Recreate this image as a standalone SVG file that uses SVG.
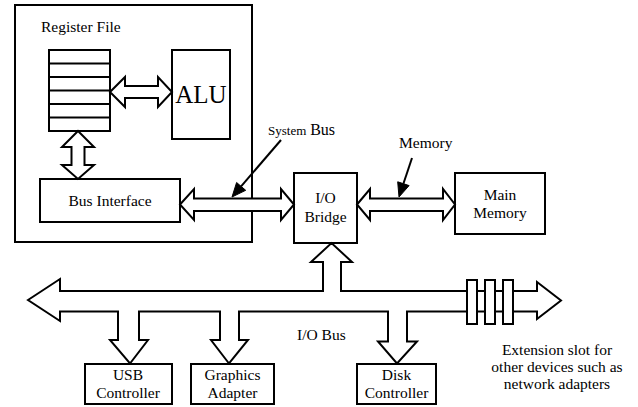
<svg xmlns="http://www.w3.org/2000/svg" width="638" height="407" viewBox="0 0 638 407">
<defs>
<style>
.box{fill:#fff;stroke:#000;stroke-width:2}
.bus{fill:#fff;stroke:#000;stroke-width:2;stroke-linejoin:miter}
.ln{stroke:#000;stroke-width:2;fill:none}
.head{fill:#000;stroke:#000;stroke-width:1;stroke-linejoin:miter}
text{font-family:"Liberation Serif","Times New Roman",serif;fill:#000;font-size:15.5px}
.c{text-anchor:middle}
</style>
</defs>
<rect width="638" height="407" fill="#fff"/>

<g id="cpu">
<rect class="box" x="15" y="5" width="237" height="237"/>
<text x="41" y="32">Register File</text>
</g>

<g id="register-file">
<rect class="box" x="49" y="50" width="61" height="81"/>
<path class="ln" d="M49,63.5H110M49,77H110M49,90.5H110M49,104H110M49,117.5H110"/>
</g>

<g id="alu">
<rect class="box" x="172" y="50" width="58" height="89"/>
<text class="c" x="201" y="103" style="font-size:25px">ALU</text>
</g>

<g id="bus-interface">
<rect class="box" x="40" y="179" width="140" height="43"/>
<text class="c" x="110" y="206">Bus Interface</text>
</g>

<g id="io-bridge">
<rect class="box" x="294" y="173" width="63" height="70"/>
<text class="c" x="325.5" y="203">I/O</text>
<text class="c" x="325.5" y="222">Bridge</text>
</g>

<g id="main-memory">
<rect class="box" x="455" y="173" width="90" height="61"/>
<text class="c" x="500" y="200">Main</text>
<text class="c" x="500" y="218">Memory</text>
</g>

<g id="usb-controller">
<rect class="box" x="85" y="364" width="87" height="40"/>
<text class="c" x="128" y="380">USB</text>
<text class="c" x="128" y="398">Controller</text>
</g>

<g id="graphics-adapter">
<rect class="box" x="191" y="364" width="83" height="40"/>
<text class="c" x="232.5" y="380">Graphics</text>
<text class="c" x="232.5" y="398">Adapter</text>
</g>

<g id="disk-controller">
<rect class="box" x="357" y="364" width="79" height="40"/>
<text class="c" x="396.5" y="380">Disk</text>
<text class="c" x="396.5" y="398">Controller</text>
</g>

<g id="connectors">
<polygon class="bus" points="110,92 125,77 125,86 158,86 158,77 172,92 158,107 158,98 125,98 125,107"/>
<polygon class="bus" points="78,131 94,147 84.5,147 84.5,165 94,165 78,179 62,165 71.5,165 71.5,147 62,147"/>
<polygon class="bus" points="180,204.5 194,189 194,198.5 281,198.5 281,189 294,204.5 281,220 281,211 194,211 194,220"/>
<polygon class="bus" points="357,204.5 370,189 370,198.5 443,198.5 443,189 455,204.5 443,220 443,211 370,211 370,220"/>
<polygon class="bus" points="28,300 60,279 60,291 323,291 323,262 311,262 331.5,243 352,262 341,262 341,291 537,291 537,282 561,300.5 537,319 537,311.5 407,311.5 407,341.5 417,341.5 397,363.5 378,341.5 388,341.5 388,311.5 239,311.5 239,340 248,340 229,363.5 211,340 220,340 220,311.5 139,311.5 139,340 148,340 130,363.5 110,340 118,340 118,311.5 60,311.5 60,321"/>
<rect class="box" x="467" y="280" width="10" height="44"/>
<rect class="box" x="485" y="280" width="10" height="44"/>
<rect class="box" x="503" y="280" width="10" height="44"/>
<line x1="281" y1="140" x2="241.1" y2="186.4" stroke="#000" stroke-width="2"/>
<polygon class="head" points="232,197 245.7,190.3 236.6,182.5"/>
<line x1="412" y1="158" x2="403.4" y2="183.7" stroke="#000" stroke-width="2"/>
<polygon class="head" points="399,197 409.1,185.6 397.7,181.8"/>
</g>

<g id="labels">
<text x="268" y="135"><tspan style="font-size:13px">System</tspan> <tspan style="font-size:16px">Bus</tspan></text>
<text x="399" y="148">Memory</text>
<text x="297" y="340">I/O Bus</text>
<text class="c" x="557" y="355">Extension slot for</text>
<text class="c" x="557" y="372">other devices such as</text>
<text class="c" x="557" y="389">network adapters</text>
</g>
</svg>
